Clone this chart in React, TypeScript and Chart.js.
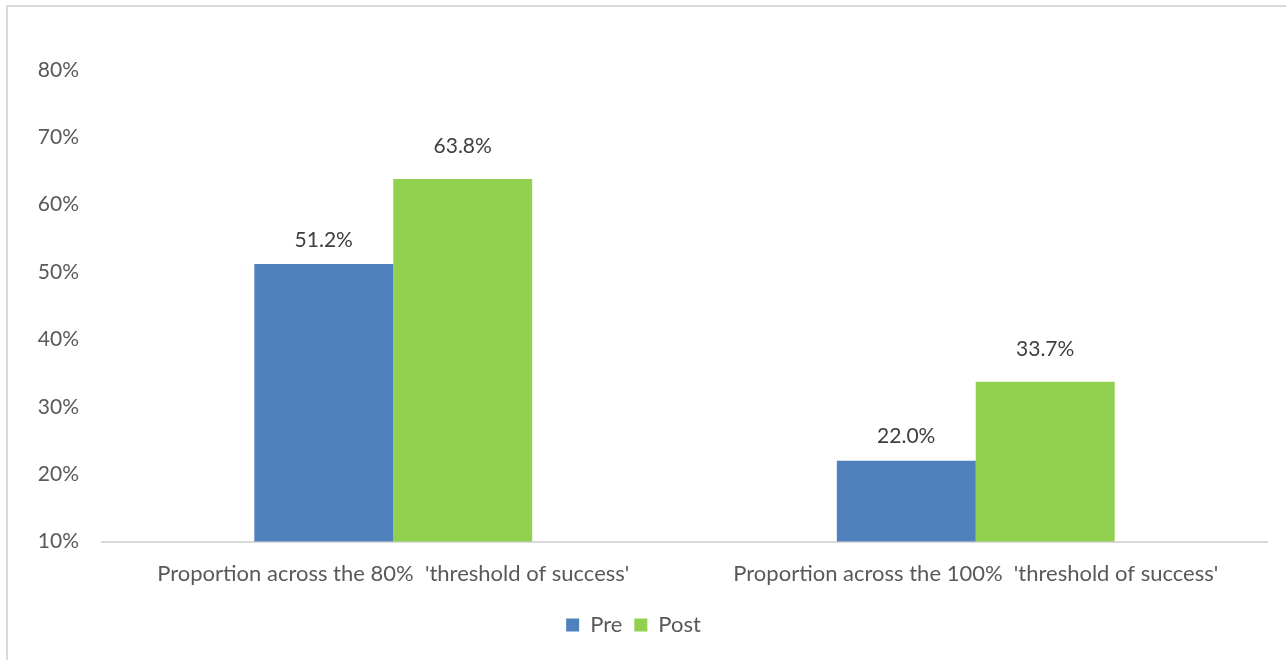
import React, { useEffect, useRef } from "react";
import { Chart, registerables } from "chart.js";

Chart.register(...registerables);

const categories = [
  "Proportion across the 80%  'threshold of success'",
  "Proportion across the 100%  'threshold of success'",
];
const preValues = [51.2, 22.0];
const postValues = [63.8, 33.7];
const seriesNames = ["Pre", "Post"];
const seriesColors = ["#4F81BD", "#92D050"];

const FONT = "Lato, 'Open Sans', sans-serif";
const FS = 21;
const labelOffsets = [24, 33];

const frame = {
  id: "frame",
  beforeDraw(chart: any) {
    const ctx = chart.ctx;
    ctx.save();
    ctx.fillStyle = "#ffffff";
    ctx.fillRect(0, 0, chart.width, chart.height);
    ctx.strokeStyle = "#D9D9D9";
    ctx.lineWidth = 2;
    ctx.beginPath();
    ctx.moveTo(7, chart.height);
    ctx.lineTo(7, 6);
    ctx.lineTo(chart.width, 6);
    ctx.stroke();
    ctx.restore();
  },
};

const valueLabels = {
  id: "valueLabels",
  afterDatasetsDraw(chart: any) {
    const ctx = chart.ctx;
    ctx.save();
    ctx.font = `${FS}px ${FONT}`;
    ctx.fillStyle = "#404040";
    ctx.textAlign = "center";
    ctx.textBaseline = "middle";
    chart.data.datasets.forEach((ds: any, di: number) => {
      const meta = chart.getDatasetMeta(di);
      meta.data.forEach((bar: any, i: number) => {
        ctx.fillText(ds.data[i].toFixed(1) + "%", bar.x, bar.y - labelOffsets[di]);
      });
    });
    ctx.restore();
  },
};

export default function App() {
  const ref = useRef<HTMLCanvasElement>(null);
  useEffect(() => {
    if (!ref.current) return;
    const chart = new Chart(ref.current, {
      type: "bar",
      data: {
        labels: categories,
        datasets: [
          {
            label: seriesNames[0],
            data: preValues,
            backgroundColor: seriesColors[0],
            categoryPercentage: 0.477,
            barPercentage: 1,
          },
          {
            label: seriesNames[1],
            data: postValues,
            backgroundColor: seriesColors[1],
            categoryPercentage: 0.477,
            barPercentage: 1,
          },
        ],
      },
      options: {
        animation: false,
        responsive: false,
        maintainAspectRatio: false,
        layout: { padding: { left: 0, right: 19, top: 70, bottom: 14 } },
        scales: {
          x: {
            grid: { display: false, drawTicks: false },
            border: { display: true, color: "#D9D9D9", width: 2 },
            ticks: {
              color: "#595959",
              font: { family: FONT, size: 22 },
              padding: 19,
              maxRotation: 0,
              autoSkip: false,
            },
            afterFit(scale: any) {
              scale.height = 60.5;
            },
          },
          y: {
            min: 10,
            max: 80,
            grid: { display: false, drawTicks: false },
            border: { display: false },
            ticks: {
              stepSize: 10,
              color: "#595959",
              font: { family: FONT, size: FS },
              padding: 23,
              callback: (v: any) => v + "%",
            },
            afterFit(scale: any) {
              scale.width = 102;
            },
          },
        },
        plugins: {
          legend: {
            position: "bottom",
            labels: {
              boxWidth: 13,
              boxHeight: 13,
              padding: 12,
              color: "#595959",
              font: { family: FONT, size: 22 },
            },
          },
          tooltip: { enabled: false },
        },
      },
      plugins: [frame, valueLabels],
    });
    return () => chart.destroy();
  }, []);
  return (
    <div style={{ position: "absolute", left: 0, top: 0, width: 1286, height: 660 }}>
      <canvas ref={ref} width={1286} height={660} style={{ display: "block" }} />
    </div>
  );
}
